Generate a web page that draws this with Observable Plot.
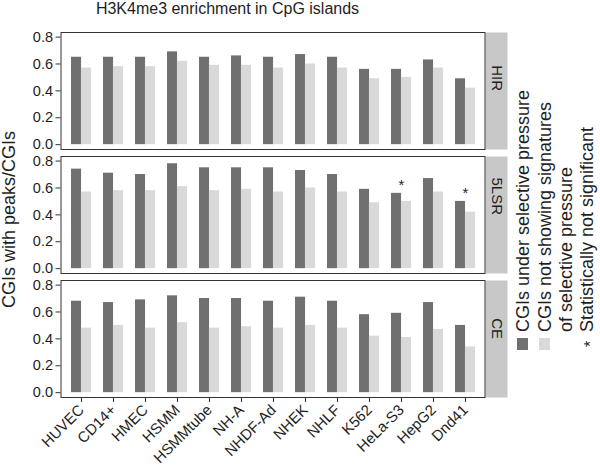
<!DOCTYPE html>
<html><head><meta charset="utf-8">
<script src="https://cdn.jsdelivr.net/npm/d3@7"></script>
<script src="https://cdn.jsdelivr.net/npm/@observablehq/plot@0.6"></script>
<style>body{margin:0;background:#fff} #chart{position:relative;width:600px;height:468px}</style>
</head><body><div id="chart"></div>
<script>
// ---- data ----
const cells = ["HUVEC","CD14+","HMEC","HSMM","HSMMtube","NH-A","NHDF-Ad","NHEK","NHLF","K562","HeLa-S3","HepG2","Dnd41"];
const panels = ["HIR","5LSR","CE"];
const hirUnder = [0.65,0.65,0.65,0.69,0.65,0.66,0.65,0.67,0.65,0.56,0.56,0.63,0.49];
const hirNot   = [0.57,0.58,0.58,0.62,0.59,0.59,0.57,0.60,0.57,0.49,0.50,0.57,0.42];
const lsrUnder = [0.74,0.71,0.70,0.78,0.75,0.75,0.75,0.73,0.70,0.59,0.56,0.67,0.50];
const lsrNot   = [0.57,0.58,0.58,0.61,0.58,0.59,0.57,0.60,0.57,0.49,0.50,0.57,0.42];
const ceUnder  = [0.68,0.67,0.69,0.72,0.70,0.70,0.68,0.71,0.68,0.58,0.59,0.67,0.50];
const ceNot    = [0.48,0.50,0.48,0.52,0.48,0.49,0.48,0.50,0.48,0.42,0.41,0.47,0.34];
const notSignificant = [{panel:"5LSR", cell:"HeLa-S3"}, {panel:"5LSR", cell:"Dnd41"}];
const yTicks = [0, 0.2, 0.4, 0.6, 0.8];
const titleText = "H3K4me3 enrichment in CpG islands";
const yTitle = "CGIs with peaks/CGIs";
const legendLabels = ["CGIs under selective pressure", "CGIs not showing signatures", "of selective pressure", "Statistically not significant"];

// ---- build table ----
const underBy = {HIR: hirUnder, "5LSR": lsrUnder, CE: ceUnder};
const notBy = {HIR: hirNot, "5LSR": lsrNot, CE: ceNot};
const rows = [];
panels.forEach(p => cells.forEach((c, i) => {
  rows.push({panel: p, cell: c, group: "under", value: underBy[p][i]});
  rows.push({panel: p, cell: c, group: "not", value: notBy[p][i]});
}));
const starRows = notSignificant.map(d => ({...d, value: underBy[d.panel][cells.indexOf(d.cell)]}));

const DARK = "#707070", LIGHT = "#d9d9d9", STRIP = "#c8c8c8", INK = "#1e1e1e";
const W = 600, H = 468, mL = 60.5, mR = 115.5, mT = 31, mB = 71;
const padIn = 0.38, padOut = 0.29;
const step = (W - mL - mR) / (cells.length - padIn + 2 * padOut);
const half = step * (1 - padIn) / 2;
const FONT = "'Liberation Sans', Arial, Helvetica, sans-serif";

const plot = Plot.plot({
  width: W, height: H,
  marginLeft: mL, marginRight: mR, marginTop: mT, marginBottom: mB,
  style: {fontFamily: FONT, fontSize: "14px", color: INK, background: "#fff", overflow: "visible"},
  x: {type: "band", domain: cells, paddingInner: padIn, paddingOuter: padOut, label: null},
  y: {domain: [-0.036, 0.834], label: null},
  fy: {domain: panels, paddingInner: 0.06, paddingOuter: 0, axis: null, label: null},
  marks: [
    Plot.frame({fill: STRIP, stroke: null, insetLeft: W - mL - mR + 0.5, insetRight: -22.5}),
    Plot.barY(rows.filter(d => d.group === "under"), {x: "cell", y: "value", fy: "panel", fill: DARK, insetLeft: 0, insetRight: half}),
    Plot.barY(rows.filter(d => d.group === "not"), {x: "cell", y: "value", fy: "panel", fill: LIGHT, insetLeft: half, insetRight: 0}),
    Plot.text(starRows, {x: "cell", y: "value", fy: "panel", text: () => "*", dy: -8, fontSize: 15, fill: INK}),
    Plot.text(panels, {fy: d => d, text: d => d, frameAnchor: "right", dx: 11.5, rotate: 90, fontSize: 15, fill: INK}),
    Plot.axisY({ticks: yTicks, tickFormat: d3.format(".1f"), label: null, tickSize: 5, tickPadding: 3, fontSize: 14.5, stroke: "#333"}),
    Plot.axisX({label: null, tickRotate: -45, tickSize: 5, tickPadding: 5, fontSize: 15, stroke: "#333"}),
    Plot.frame({stroke: "#333", strokeWidth: 1})
  ]
});
document.getElementById("chart").appendChild(plot);

// ---- title, axis title, legend ----
const svg = d3.select(plot);
const g = svg.append("g").attr("font-family", FONT).attr("fill", INK);
g.append("text").attr("x", 227.5).attr("y", 13.5).attr("text-anchor", "middle").attr("font-size", 16).text(titleText);
g.append("text").attr("transform", "translate(15,219.5) rotate(-90)").attr("text-anchor", "middle").attr("font-size", 18).text(yTitle);
const lx = [529, 551, 572, 593];
legendLabels.forEach((t, i) => {
  g.append("text").attr("transform", `translate(${lx[i]},332) rotate(-90)`).attr("text-anchor", "start").attr("font-size", 18).text(t);
});
g.append("rect").attr("x", 517).attr("y", 338).attr("width", 11).attr("height", 12).attr("fill", DARK);
g.append("rect").attr("x", 539).attr("y", 338).attr("width", 11).attr("height", 12).attr("fill", LIGHT);
g.append("text").attr("transform", "translate(596,344) rotate(-90)").attr("text-anchor", "middle").attr("font-size", 16).text("*");
</script>
</body></html>
